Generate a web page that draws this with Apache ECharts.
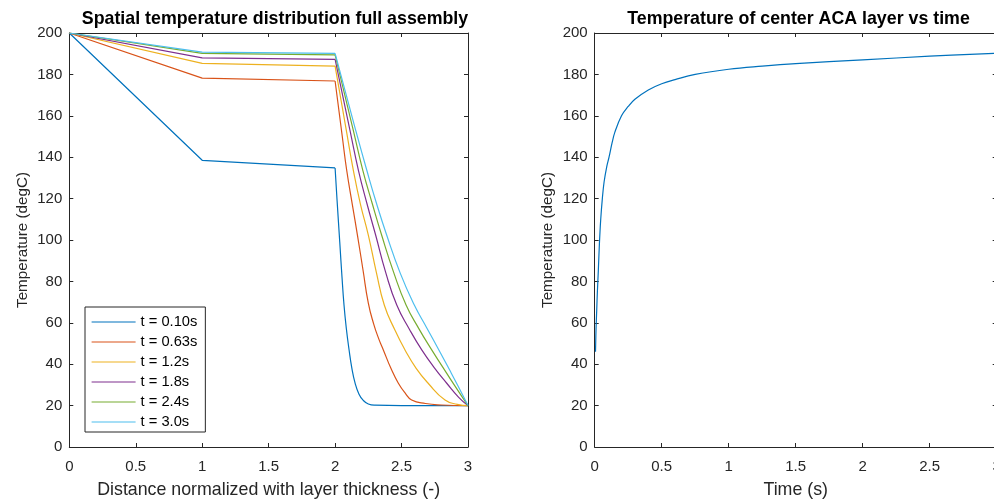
<!DOCTYPE html>
<html>
<head>
<meta charset="utf-8">
<script src="https://cdn.jsdelivr.net/npm/echarts@6/dist/echarts.min.js"></script>
<style>
html,body{margin:0;padding:0;background:#fff;overflow:hidden;}
#chart{width:994px;height:502px;}
</style>
</head>
<body>
<div id="chart"></div>
<script>
// ---- Left plot: spatial temperature distribution ----
const legendNames = ['t = 0.10s', 't = 0.63s', 't = 1.2s', 't = 1.8s', 't = 2.4s', 't = 3.0s'];

const xT010 = [0, 1, 2, 2.015, 2.035, 2.052, 2.067, 2.085, 2.105, 2.125, 2.15, 2.18, 2.212, 2.25, 2.3, 2.5, 3];
const yT010 = [200, 138.5, 134.8, 119, 99, 82, 68.6, 57, 47, 38.5, 31, 25.5, 22.5, 20.8, 20.2, 20, 20];

const xT063 = [0, 1, 2, 2.054, 2.087, 2.13, 2.168, 2.21, 2.25, 2.29, 2.33, 2.363, 2.42, 2.476, 2.53, 2.576, 2.68, 2.8, 3];
const yT063 = [200, 178.2, 176.8, 150, 133.8, 117, 102.4, 85.5, 69.5, 59.5, 52, 46.9, 38, 30.8, 25.8, 22.7, 21, 20.3, 20];

const xT12 = [0, 1, 2, 2.087, 2.137, 2.19, 2.25, 2.31, 2.37, 2.45, 2.526, 2.61, 2.70, 2.827, 2.92, 3];
const yT12 = [200, 185.3, 184, 152, 133.8, 117.5, 102.4, 84.5, 68.6, 56.5, 46.9, 38, 30.8, 22.7, 20.6, 20];

const xT18 = [0, 1, 2, 2.112, 2.175, 2.24, 2.305, 2.38, 2.464, 2.56, 2.652, 2.75, 2.84, 2.93, 3];
const yT18 = [200, 188, 187.3, 153, 133.8, 117.5, 102.4, 84.5, 68.6, 56.8, 46.9, 38, 30.8, 24, 20];

const xT24 = [0, 1, 2, 2.137, 2.208, 2.28, 2.35, 2.44, 2.534, 2.63, 2.727, 2.81, 2.89, 3];
const yT24 = [200, 190.2, 189.4, 153, 133.8, 117.5, 102.4, 84.5, 68.6, 57.2, 46.9, 38.6, 30.6, 20];

const xT30 = [0, 1, 2, 2.155, 2.238, 2.31, 2.388, 2.49, 2.596, 2.69, 2.79, 2.86, 2.927, 3];
const yT30 = [200, 190.8, 190.2, 153, 133.8, 118, 102.4, 84, 68.6, 57.5, 45.8, 37.4, 29.2, 20];

// ---- Right plot: center ACA layer temperature vs time ----
const timeS = [0.006, 0.01, 0.015, 0.02, 0.027, 0.035, 0.045, 0.057, 0.07, 0.09, 0.107, 0.13, 0.15, 0.2, 0.25, 0.3, 0.4, 0.5, 0.6, 0.75, 1.0, 1.25, 1.5, 2.0, 2.5, 3.0];
const tempC = [46, 57, 66, 75, 85, 98, 110, 120, 128, 135.5, 140, 147, 152, 160, 164.5, 168, 172.5, 175.5, 177.5, 180, 182.5, 184, 185.2, 187, 188.8, 190.2];

const xTicksInterval = 0.5;
const yTicksInterval = 20;

const colors = ['#0072BD', '#D95319', '#EDB120', '#7E2F8E', '#77AC30', '#4DBEEE'];
const FONT = 'Liberation Sans, Arial, Helvetica, sans-serif';
const AX = '#262626';

function pairs(xs, ys) { return xs.map((x, i) => [x, ys[i]]); }

function mainX(gridIndex, name) {
  return {
    type: 'value', gridIndex: gridIndex, min: 0, max: 3, interval: xTicksInterval,
    position: 'bottom',
    name: name, nameLocation: 'middle', nameGap: 34,
    nameTextStyle: { color: AX, fontSize: 17.8, fontFamily: FONT },
    axisLine: { show: true, onZero: false, lineStyle: { color: AX, width: 1 } },
    axisTick: { show: true, inside: true, length: 4, lineStyle: { color: AX } },
    axisLabel: { color: AX, fontSize: 15, fontFamily: FONT, margin: 12 },
    splitLine: { show: false }
  };
}
function topX(gridIndex) {
  return {
    type: 'value', gridIndex: gridIndex, min: 0, max: 3, interval: xTicksInterval,
    position: 'top',
    axisLine: { show: true, onZero: false, lineStyle: { color: AX, width: 1 } },
    axisTick: { show: true, inside: true, length: 4, lineStyle: { color: AX } },
    axisLabel: { show: false }, splitLine: { show: false }
  };
}
function mainY(gridIndex) {
  return {
    type: 'value', gridIndex: gridIndex, min: 0, max: 200, interval: yTicksInterval,
    position: 'left',
    name: 'Temperature (degC)', nameLocation: 'middle', nameGap: 39,
    nameTextStyle: { color: AX, fontSize: 15.2, fontFamily: FONT },
    axisLine: { show: true, onZero: false, lineStyle: { color: AX, width: 1 } },
    axisTick: { show: true, inside: true, length: 4, lineStyle: { color: AX } },
    axisLabel: { color: AX, fontSize: 15, fontFamily: FONT, margin: 7 },
    splitLine: { show: false }
  };
}
function rightY(gridIndex) {
  return {
    type: 'value', gridIndex: gridIndex, min: 0, max: 200, interval: yTicksInterval,
    position: 'right',
    axisLine: { show: true, onZero: false, lineStyle: { color: AX, width: 1 } },
    axisTick: { show: true, inside: true, length: 4, lineStyle: { color: AX } },
    axisLabel: { show: false }, splitLine: { show: false }
  };
}

const leftX = [xT010, xT063, xT12, xT18, xT24, xT30];
const leftY = [yT010, yT063, yT12, yT18, yT24, yT30];

const series = [];
// linear conductor layers (x from 0 to 2)
leftX.forEach((xs, i) => {
  const ys = leftY[i];
  const k = xs.indexOf(2);
  series.push({
    name: legendNames[i], type: 'line', xAxisIndex: 0, yAxisIndex: 0,
    data: pairs(xs.slice(0, k + 1), ys.slice(0, k + 1)),
    symbol: 'none', showSymbol: false, smooth: false,
    lineStyle: { color: colors[i], width: 1.2 }, itemStyle: { color: colors[i] },
    animation: false
  });
});
// diffusion layer (x from 2 to 3), smooth curve through read points
leftX.forEach((xs, i) => {
  const ys = leftY[i];
  const k = xs.indexOf(2);
  series.push({
    name: legendNames[i], type: 'line', xAxisIndex: 0, yAxisIndex: 0,
    data: pairs(xs.slice(k), ys.slice(k)),
    symbol: 'none', showSymbol: false, smooth: 0.5,
    lineStyle: { color: colors[i], width: 1.2 }, itemStyle: { color: colors[i] },
    animation: false
  });
});
series.push({
  name: 'center', type: 'line', xAxisIndex: 2, yAxisIndex: 2,
  data: pairs(timeS, tempC), symbol: 'none', showSymbol: false,
  smooth: 0.4,
  lineStyle: { color: colors[0], width: 1.2 }, itemStyle: { color: colors[0] },
  animation: false
});

const chart = echarts.init(document.getElementById('chart'), null, { renderer: 'canvas' });
chart.setOption({
  animation: false,
  backgroundColor: '#ffffff',
  title: [
    { text: 'Spatial temperature distribution full assembly', left: 270, top: 5, textAlign: 'center',
      textStyle: { color: '#000', fontSize: 17.8, fontWeight: 'bold', fontFamily: FONT } },
    { text: 'Temperature of center ACA layer vs time', left: 793.5, top: 5, textAlign: 'center',
      textStyle: { color: '#000', fontSize: 17.8, fontWeight: 'bold', fontFamily: FONT } }
  ],
  grid: [
    { left: 69.3, top: 33, width: 398.7, height: 414, containLabel: false, outerBoundsMode: 'none' },
    { left: 594.7, top: 33, width: 402, height: 414, containLabel: false, outerBoundsMode: 'none' }
  ],
  xAxis: [
    mainX(0, 'Distance normalized with layer thickness (-)'), topX(0),
    mainX(1, 'Time (s)'), topX(1)
  ],
  yAxis: [mainY(0), rightY(0), mainY(1), rightY(1)],
  legend: {
    data: legendNames,
    orient: 'vertical', left: 85, top: 307,
    backgroundColor: '#ffffff', borderColor: AX, borderWidth: 1,
    padding: [7.5, 8, 2.5, 6],
    itemWidth: 44, itemHeight: 15, itemGap: 5,
    itemStyle: { opacity: 0 },
    lineStyle: { width: 1.2 },
    textStyle: { color: '#000', fontSize: 14.7, fontFamily: FONT },
    selectedMode: false
  },
  series: series
});
</script>
</body>
</html>
